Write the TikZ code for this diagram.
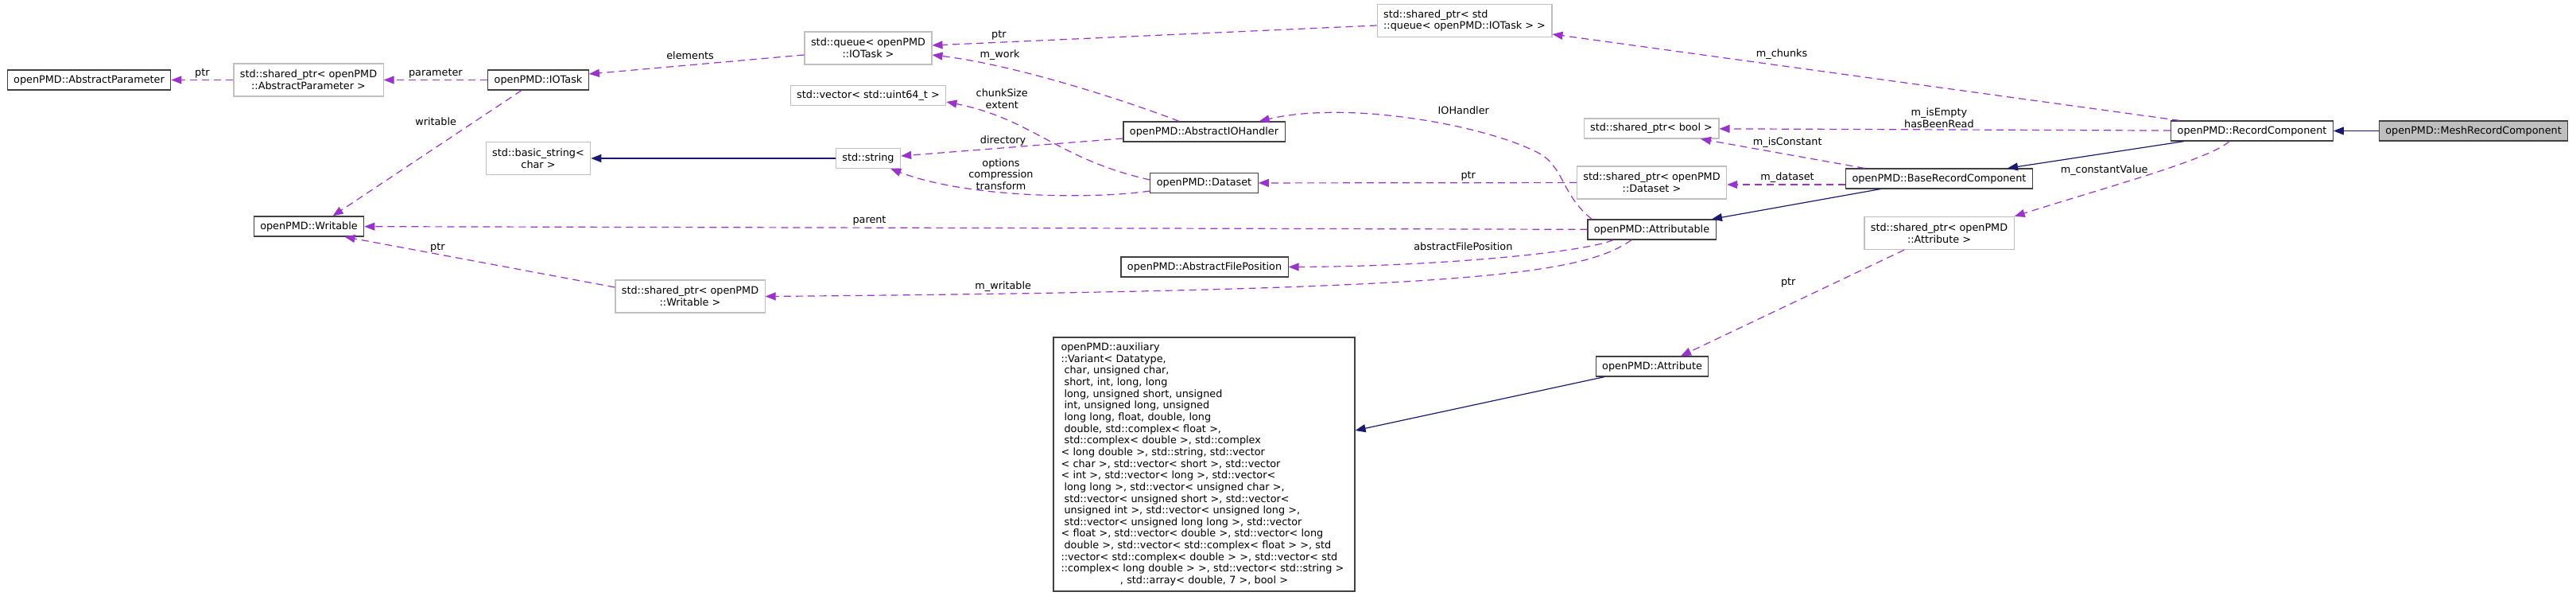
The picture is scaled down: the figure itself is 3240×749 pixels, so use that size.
\documentclass[tikz,border=0pt]{standalone}
\usepackage{fontspec}
\setmainfont{DejaVu Sans}
\usetikzlibrary{arrows.meta}
\definecolor{edgepurple}{HTML}{9A32CD}
\definecolor{edgeblue}{HTML}{191970}
\definecolor{extgray}{HTML}{BFBFBF}
\newcommand{\dotfont}{\fontsize{6.4pt}{7.33pt}\selectfont}
\newcommand{\indentsp}{\hspace*{0.318em}}
\begin{document}
\begin{tikzpicture}[x=0.5pt,y=-0.5pt,font=\dotfont]
	\tikzstyle{cls}=[draw=black!75,line width=0.6pt,fill=white,minimum height=12.5pt,inner xsep=4pt,inner ysep=0pt]
	\tikzstyle{ext}=[cls,draw=extgray]
	\tikzstyle{cur}=[cls,fill=extgray]
	\tikzstyle{tall}=[minimum height=20.5pt,align=center]
	\tikzstyle{member}=[draw=edgepurple,line width=0.6pt,dash pattern=on 4.5pt off 3pt,-{Triangle[length=6.5pt,width=5pt]}]
	\tikzstyle{derived}=[draw=edgeblue,line width=0.6pt,-{Triangle[length=6.5pt,width=5pt]}]
	\tikzstyle{lbl}=[inner sep=1pt]
	\fill[white] (0,0) rectangle (3240,749);
	\begin{scope}
		\node [cls] (ap) at (112,100.5) {openPMD::AbstractParameter};
		\node [ext,tall] (spap) at (388,100.5) {std::shared\_ptr< openPMD\\::AbstractParameter >};
		\node [cls] (iotask) at (677,100.5) {openPMD::IOTask};
		\node [ext,tall] (bstr) at (677,199) {std::basic\_string<\\char >};
		\node [cls] (writable) at (388.5,284.5) {openPMD::Writable};
		\node [ext,tall] (queue) at (1092,60.5) {std::queue< openPMD\\::IOTask >};
		\node [ext] (vec) at (1092,120) {std::vector< std::uint64\_t >};
		\node [ext] (str) at (1092,199) {std::string};
		\node [cls] (aioh) at (1514.5,165.5) {openPMD::AbstractIOHandler};
		\node [cls] (dataset) at (1514.5,230) {openPMD::Dataset};
		\node [cls] (afp) at (1515,335.5) {openPMD::AbstractFilePosition};
		\node [ext,tall] (spw) at (868,372.5) {std::shared\_ptr< openPMD\\::Writable >};
		\node [cls,text width=180pt,align=left,minimum height=159.5pt,inner xsep=4.75pt] (variant) at (1514.5,583.5) {openPMD::auxiliary\\
			::Variant< Datatype,\\
			\indentsp char, unsigned char,\\
			\indentsp short, int, long, long\\
			\indentsp long, unsigned short, unsigned\\
			\indentsp int, unsigned long, unsigned\\
			\indentsp long long, float, double, long\\
			\indentsp double, std::complex< float >,\\
			\indentsp std::complex< double >, std::complex\\
			< long double >, std::string, std::vector\\
			< char >, std::vector< short >, std::vector\\
			< int >, std::vector< long >, std::vector<\\
			\indentsp long long >, std::vector< unsigned char >,\\
			\indentsp std::vector< unsigned short >, std::vector<\\
			\indentsp unsigned int >, std::vector< unsigned long >,\\
			\indentsp std::vector< unsigned long long >, std::vector\\
			< float >, std::vector< double >, std::vector< long\\
			\indentsp double >, std::vector< std::complex< float > >, std\\
			::vector< std::complex< double > >, std::vector< std\\
			::complex< long double > >, std::vector< std::string >\\
			\hspace*{\fill}, std::array< double, 7 >, bool >\hspace*{\fill}\mbox{}};
		\node [ext,tall,align=left] (spq) at (1842,26) {std::shared\_ptr< std\\::queue< openPMD::IOTask > >};
		\node [ext] (spb) at (2077,161.5) {std::shared\_ptr< bool >};
		\node [ext,tall] (spd) at (2077.5,229.5) {std::shared\_ptr< openPMD\\::Dataset >};
		\node [cls] (attributable) at (2077.5,288.5) {openPMD::Attributable};
		\node [cls] (attribute) at (2078,460.5) {openPMD::Attribute};
		\node [cls] (brc) at (2439,224.5) {openPMD::BaseRecordComponent};
		\node [ext,tall] (spattr) at (2439,293) {std::shared\_ptr< openPMD\\::Attribute >};
		\node [cls] (rc) at (2832.5,164.5) {openPMD::RecordComponent};
		\node [cur] (mrc) at (3111,164.5) {openPMD::MeshRecordComponent};
		% io task side
		\path (spap) edge[member] node[lbl,above] {ptr} (ap);
		\path (iotask) edge[member] node[lbl,above] {parameter} (spap);
		\path ([yshift=-4.25pt]queue.west) edge[member] node[lbl,above=2pt,pos=.53] {elements} ([yshift=3.75pt]iotask.east);
		\path ([xshift=-10.5pt]iotask.south) edge[member] node[lbl,left=10pt,pos=.25] {writable} ([xshift=15pt]writable.north);
		\path (str) edge[derived] (bstr);
		\path ([yshift=-3pt]spq.west) edge[member] node[lbl,above,pos=.85] {ptr} ([yshift=1.75pt]queue.east);
		\draw[member] ([xshift=-15.75pt]aioh.north) .. controls (1420,128) and (1280,82) .. node[lbl,above=3pt,pos=.75] {m\_work} ([yshift=-4.25pt]queue.east);
		\draw[member] ([yshift=2pt]dataset.west) .. controls (1330,200) and (1300,150) .. node[lbl,above=5pt,pos=.75,align=center] {chunkSize\\extent} ([yshift=-4pt]vec.east);
		\path ([yshift=-4.25pt]aioh.west) edge[member] node[lbl,above,pos=.54] {directory} ([yshift=1.5pt]str.east);
		\draw[member] ([yshift=-5pt]dataset.west) .. controls (1380,250) and (1220,250) .. node[lbl,above,pos=.6,align=center] {options\\compression\\transform} ([xshift=-6.5pt]str.south east);
		% attributable
		\path (attributable) edge[member] node[lbl,above,pos=.587] {parent} (writable);
		\path ([yshift=5.75pt]spw.west) edge[member] node[lbl,above,pos=.656] {ptr} ([xshift=22.5pt]writable.south);
		\draw[member] ([xshift=-37.75pt]attributable.north) .. controls (1965,245) and (1968,215) .. (1940,195) .. controls (1880,160) and (1700,125) .. node[lbl,above=7.5pt,pos=.35] {IOHandler} ([xshift=-16.5pt]aioh.north east);
		\path (spd) edge[member] node[lbl,above,pos=.34] {ptr} (dataset);
		\draw[member] ([xshift=-24.25pt]attributable.south) .. controls (1990,318) and (1800,335) .. node[lbl,above=5pt,pos=.58] {abstractFilePosition} (afp.east);
		\draw[member] ([xshift=-12.75pt]attributable.south) .. controls (1990,345) and (1850,365) .. node[lbl,above,pos=.875] {m\_writable} (spw.east);
		% record components
		\path ([xshift=-45.75pt]rc.north) edge[member] node[lbl,above=3pt,pos=.634] {m\_chunks} ([yshift=-8.5pt]spq.east);
		\path (rc) edge[member] node[lbl,above,pos=.513,align=center] {m\_isEmpty\\hasBeenRead} (spb);
		\path ([xshift=-47pt]brc.north) edge[member] node[lbl,above=3pt,pos=.47] {m\_isConstant} ([xshift=31pt]spb.south);
		\path ([yshift=-3.75pt]brc.west) edge[member] node[lbl,above,pos=.49] {m\_dataset} ([yshift=-1.25pt]spd.east);
		\path ([xshift=-37pt]brc.south) edge[derived] ([xshift=37.75pt]attributable.north);
		\path ([xshift=-42.75pt]rc.south) edge[derived] ([xshift=43pt]brc.north);
		\path (mrc) edge[derived] (rc);
		\draw[member] ([xshift=-14.25pt]rc.south) .. controls (2780,200) and (2650,235) .. node[lbl,left=7pt,pos=.45] {m\_constantValue} (spattr.north east);
		\path ([xshift=-22pt]spattr.south) edge[member] node[lbl,left=24pt,pos=.306] {ptr} ([xshift=18pt]attribute.north);
		\path ([xshift=-30pt]attribute.south) edge[derived] ([yshift=21.25pt]variant.east);
	\end{scope}
\end{tikzpicture}
\end{document}
